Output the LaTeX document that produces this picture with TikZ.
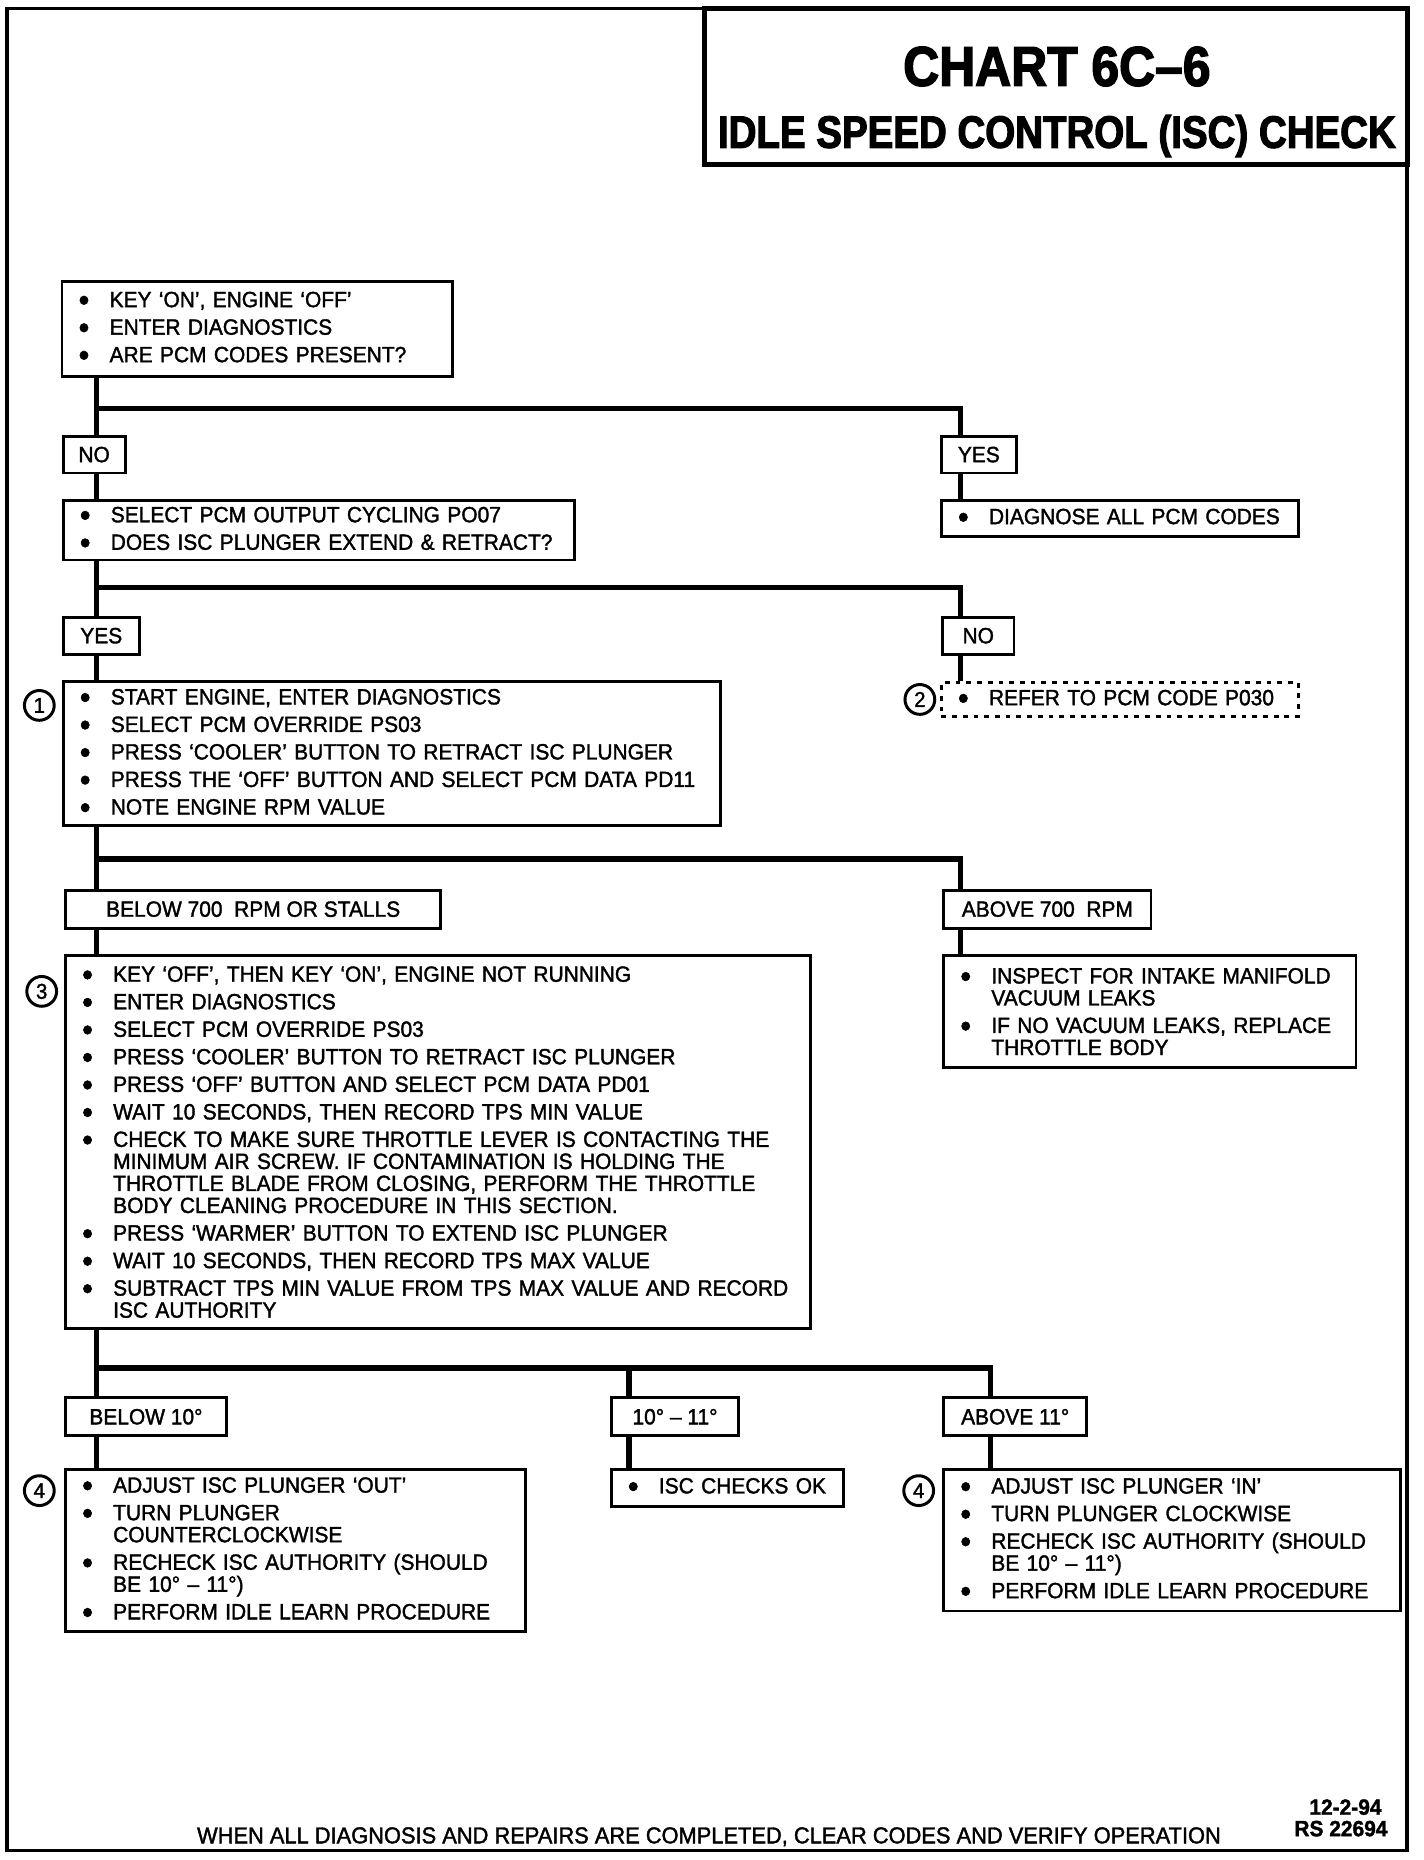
\documentclass[tikz,border=0pt]{standalone}
\usepackage{fontspec}
\setmainfont{Liberation Sans}[FakeStretch=0.95, FakeBold=1.6]
\newfontfamily\chartfont{Liberation Sans}[FakeStretch=0.89, FakeBold=2.5]
\newfontfamily\headfont{Liberation Sans}[FakeStretch=0.85, FakeBold=2.5]
\usetikzlibrary{positioning}

\newif\ifmoreitm
\newcommand{\bodysize}{\fontsize{18.5}{18.5}\selectfont}
\newcommand{\bul}{\makebox[26pt][l]{\fontsize{27}{18}\selectfont\raisebox{-3.2pt}{\textbullet}}}
\newcommand{\itm}[1]{\ifmoreitm\par\fi\global\moreitmtrue\parskip=4.6pt\noindent\bul\mbox{#1}}
\newcommand{\cnt}[1]{\newline\hspace*{26pt}\mbox{#1}}

\tikzset{
  stepbox/.style={draw, line width=2.4pt, inner xsep=14pt, inner ysep=0pt, align=left, font=\bodysize,
    execute at begin node={\global\moreitmfalse}},
  tagbox/.style={draw, line width=2.4pt, inner sep=0pt, minimum height=31pt, font=\bodysize},
  stepnum/.style={circle, draw, line width=2.5pt, minimum size=25pt, inner sep=0pt, font=\fontsize{18}{18}\selectfont},
  conn/.style={line width=4.5pt},
}

\begin{document}
\begin{tikzpicture}[x=1pt, y=-1pt]
\useasboundingbox (0,0) rectangle (1195,1561);
\draw[line width=3pt] (6,7) rectangle (1181,1553);

% title
\node[draw, line width=4.5pt, minimum width=590pt, minimum height=131pt] (title) at (886,72.5) {};
\node[anchor=base, font=\chartfont\bfseries\fontsize{47}{47}\selectfont] (chart) at (887,72) {CHART 6C–6};
\node[anchor=base, font=\headfont\bfseries\fontsize{38}{38}\selectfont] (check) at (887,124) {IDLE SPEED CONTROL (ISC) CHECK};

% steps
\node[stepbox, text width=300pt, minimum height=80pt] (key) at (216,276)
  {\itm{KEY `ON', ENGINE `OFF'}\itm{ENTER DIAGNOSTICS}\itm{ARE PCM CODES PRESENT?}};
\node[tagbox, minimum width=52pt] (no1) at (79,381.5) {NO};
\node[tagbox, minimum width=63pt] (yes1) at (821.5,381.5) {YES};
\node[stepbox, text width=401pt, minimum height=50pt] (cyc) at (267.5,445)
  {\itm{SELECT PCM OUTPUT CYCLING PO07}\itm{DOES ISC PLUNGER EXTEND \& RETRACT?}};
\node[stepbox, text width=272pt, minimum height=30pt] (diag) at (940,435)
  {\itm{DIAGNOSE ALL PCM CODES}};
\node[tagbox, minimum width=64pt] (yes2) at (85,533.5) {YES};
\node[tagbox, minimum width=60pt] (no2) at (821,533.5) {NO};
\node[stepbox, text width=524pt, minimum height=121pt] (eng) at (329,632.5)
  {\itm{START ENGINE, ENTER DIAGNOSTICS}\itm{SELECT PCM OVERRIDE PS03}%
   \itm{PRESS `COOLER' BUTTON TO RETRACT ISC PLUNGER}%
   \itm{PRESS THE `OFF' BUTTON AND SELECT PCM DATA PD11}\itm{NOTE ENGINE RPM VALUE}};
\node[stepbox, dash pattern=on 4pt off 5pt, text width=272pt, minimum height=28pt] (ref) at (940,587)
  {\itm{REFER TO PCM CODE P030}};
\node[stepnum] (n1) at (33,592) {1};
\node[stepnum] (n2) at (772,587) {2};

\node[tagbox, minimum width=315pt, minimum height=32pt] (low) at (212.5,763) {BELOW 700~ RPM OR STALLS};
\node[tagbox, minimum width=174pt, minimum height=32pt] (high) at (879,763) {ABOVE 700~ RPM};
\node[stepbox, text width=597pt, minimum height=313pt] (tps) at (367.5,958.5)
  {\itm{KEY `OFF', THEN KEY `ON', ENGINE NOT RUNNING}\itm{ENTER DIAGNOSTICS}%
   \itm{SELECT PCM OVERRIDE PS03}\itm{PRESS `COOLER' BUTTON TO RETRACT ISC PLUNGER}%
   \itm{PRESS `OFF' BUTTON AND SELECT PCM DATA PD01}%
   \itm{WAIT 10 SECONDS, THEN RECORD TPS MIN VALUE}%
   \itm{CHECK TO MAKE SURE THROTTLE LEVER IS CONTACTING THE}%
   \cnt{MINIMUM AIR SCREW. IF CONTAMINATION IS HOLDING THE}%
   \cnt{THROTTLE BLADE FROM CLOSING, PERFORM THE THROTTLE}%
   \cnt{BODY CLEANING PROCEDURE IN THIS SECTION.}%
   \itm{PRESS `WARMER' BUTTON TO EXTEND ISC PLUNGER}%
   \itm{WAIT 10 SECONDS, THEN RECORD TPS MAX VALUE}%
   \itm{SUBTRACT TPS MIN VALUE FROM TPS MAX VALUE AND RECORD}\cnt{ISC AUTHORITY}};
\node[stepbox, text width=318pt, minimum height=94pt] (vac) at (965,849)
  {\itm{INSPECT FOR INTAKE MANIFOLD}\cnt{VACUUM LEAKS}%
   \itm{IF NO VACUUM LEAKS, REPLACE}\cnt{THROTTLE BODY}};
\node[stepnum] (n3) at (35,832) {3};

\node[tagbox, minimum width=135pt, minimum height=32pt] (lo10) at (122.5,1189) {BELOW 10°};
\node[tagbox, minimum width=107pt, minimum height=32pt] (mid) at (566.5,1189) {10° – 11°};
\node[tagbox, minimum width=120pt, minimum height=32pt] (hi11) at (852,1189) {ABOVE 11°};
\node[stepbox, text width=358pt, minimum height=136pt] (out) at (248,1301)
  {\itm{ADJUST ISC PLUNGER `OUT'}\itm{TURN PLUNGER}\cnt{COUNTERCLOCKWISE}%
   \itm{RECHECK ISC AUTHORITY (SHOULD}\cnt{BE 10° – 11°)}\itm{PERFORM IDLE LEARN PROCEDURE}};
\node[stepbox, text width=167pt, minimum height=31pt] (ok) at (610.5,1248.5)
  {\itm{ISC CHECKS OK}};
\node[stepbox, text width=355pt, minimum height=119pt] (in) at (983.5,1292.5)
  {\itm{ADJUST ISC PLUNGER `IN'}\itm{TURN PLUNGER CLOCKWISE}%
   \itm{RECHECK ISC AUTHORITY (SHOULD}\cnt{BE 10° – 11°)}\itm{PERFORM IDLE LEARN PROCEDURE}};
\node[stepnum] (n4a) at (33,1251) {4};
\node[stepnum] (n4b) at (771,1251) {4};

% connectors
\coordinate (colL) at (81,0);
\coordinate (colR) at (806,0);
\coordinate (colM) at (528,0);
\coordinate (colA) at (831,0);
\coordinate (fork1) at (81,343);
\coordinate (fork2) at (81,493);
\coordinate (fork3) at (81,721);
\coordinate (fork4) at (81,1148);
\draw[conn] (key.south -| colL) -- (no1.north -| colL);
\draw[conn] (fork1) -| (yes1.north -| colR);
\draw[conn] (no1.south -| colL) -- (cyc.north -| colL);
\draw[conn] (yes1.south -| colR) -- (diag.north -| colR);
\draw[conn] (cyc.south -| colL) -- (yes2.north -| colL);
\draw[conn] (fork2) -| (no2.north -| colR);
\draw[conn] (yes2.south -| colL) -- (eng.north -| colL);
\draw[conn] (no2.south -| colR) -- (ref.north -| colR);
\draw[conn] (eng.south -| colL) -- (low.north -| colL);
\draw[conn] (fork3) -| (high.north -| colR);
\draw[conn] (low.south -| colL) -- (tps.north -| colL);
\draw[conn] (high.south -| colR) -- (vac.north -| colR);
\draw[conn] (tps.south -| colL) -- (lo10.north -| colL);
\draw[conn] (fork4) -| (hi11.north -| colA);
\draw[conn] (colM |- fork4) -- (mid.north -| colM);
\draw[conn] (lo10.south -| colL) -- (out.north -| colL);
\draw[conn] (mid.south -| colM) -- (ok.north -| colM);
\draw[conn] (hi11.south -| colA) -- (in.north -| colA);

% footer
\node[anchor=base, font=\fontsize{19.3}{19.3}\selectfont] (foot) at (595,1547) {WHEN ALL DIAGNOSIS AND REPAIRS ARE COMPLETED, CLEAR CODES AND VERIFY OPERATION};
\node[anchor=base east, font=\bodysize\bfseries] (date) at (1163,1523) {12-2-94};
\node[anchor=base east, font=\bodysize\bfseries] (rsno) at (1168,1541) {RS 22694};
\end{tikzpicture}
\end{document}
